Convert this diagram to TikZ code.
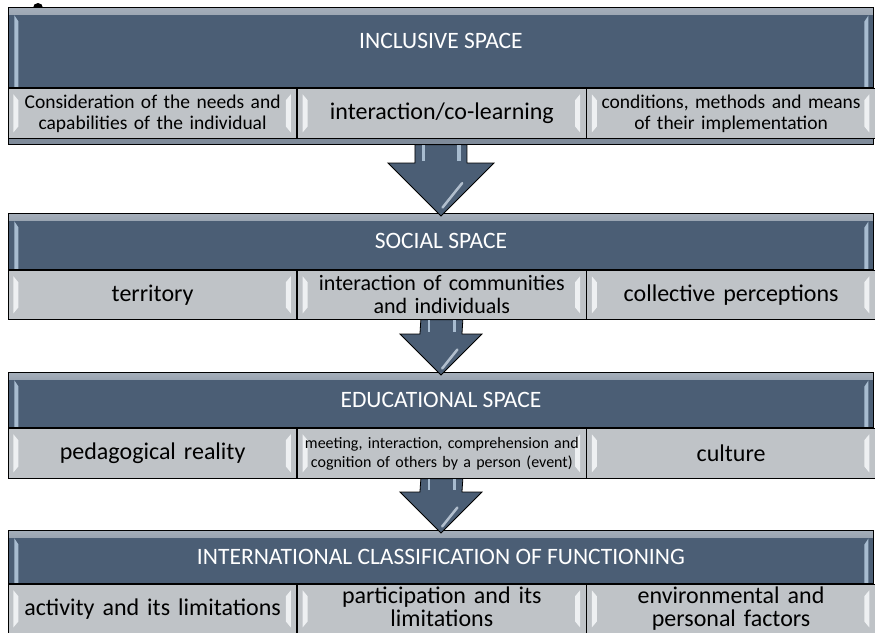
\documentclass[tikz,border=0pt]{standalone}
\usepackage{fontspec}
\setmainfont{Carlito}
\usetikzlibrary{calc}
\definecolor{slate}{RGB}{75,94,117}
\definecolor{cellgray}{RGB}{191,195,199}
\definecolor{shine}{RGB}{238,240,242}
\definecolor{shineblue}{RGB}{168,188,208}

\begin{document}
\begin{tikzpicture}[x=1pt, y=-1pt,
    base/.style={rectangle, draw=black, line width=0.9pt, fill=slate,
                 anchor=north west, minimum width=865pt, inner sep=0pt},
    head/.style={base, path picture={
        \shade[top color=slate!50!white, bottom color=slate]
            (path picture bounding box.north west) rectangle ($(path picture bounding box.north east)+(0,7)$);
        \fill[shineblue] ($(path picture bounding box.north west)+(6,8)$) -- ($(path picture bounding box.north west)+(10,14)$)
            -- ($(path picture bounding box.south west)+(10,0)$) -- ($(path picture bounding box.south west)+(6,0)$) -- cycle;
        \fill[shineblue] ($(path picture bounding box.north east)+(-5,8)$) -- ($(path picture bounding box.north east)+(-9,14)$)
            -- ($(path picture bounding box.south east)+(-9,0)$) -- ($(path picture bounding box.south east)+(-5,0)$) -- cycle;
    }},
    headtxt/.style={text=white, inner sep=0pt, font=\fontsize{23.5}{26}\selectfont},
    cell/.style={rectangle, draw=black, line width=0.9pt, fill=cellgray, anchor=north west,
                 minimum width=288.33pt, minimum height=50pt, inner sep=0pt,
                 text width=280pt, align=center, font=\fontsize{24}{23}\selectfont,
                 path picture={
        \fill[shine] ($(path picture bounding box.north west)+(5,6)$) -- ($(path picture bounding box.north west)+(10,12)$)
            -- ($(path picture bounding box.south west)+(10,-12)$) -- ($(path picture bounding box.south west)+(5,-6)$) -- cycle;
        \fill[shine] ($(path picture bounding box.north east)+(-6,6)$) -- ($(path picture bounding box.north east)+(-11,12)$)
            -- ($(path picture bounding box.south east)+(-11,-12)$) -- ($(path picture bounding box.south east)+(-6,-6)$) -- cycle;
    }},
    mid/.style={font=\fontsize{22}{23}\selectfont},
    small/.style={font=\fontsize{19.5}{21}\selectfont},
    tiny/.style={font=\fontsize{16}{19}\selectfont},
    flow/.style={fill=slate, draw=black, line width=0.8pt, line join=miter}
]
    \useasboundingbox (0,0) rectangle (875,632);
    \fill[white] (0,0) rectangle (875,632);
    \fill[black] (38,8) circle (5pt);

    % Headers
    \node[head, minimum height=80pt] (h1) at (8,7) {};
    \node[base, minimum height=56pt, fill=slate!55!cellgray] (base1) at (h1.south west) {};
    \node[head, minimum height=56pt] (h2) at (8,213) {};
    \node[head, minimum height=55pt] (h3) at (8,372) {};
    \node[head, minimum height=53pt] (h4) at (8,530) {};

    \node[headtxt] at ([yshift=6pt]h1.center) {INCLUSIVE SPACE};
    \node[headtxt] at (h2.center) {SOCIAL SPACE};
    \node[headtxt] at (h3.center) {EDUCATIONAL SPACE};
    \node[headtxt] at (h4.center) {INTERNATIONAL CLASSIFICATION OF FUNCTIONING};

    % Cells
    \node[cell, small] (c11) at (h1.south west) {Consideration of the needs and\\capabilities of the individual};
    \node[cell] (c12) at (c11.north east) {interaction/co-learning};
    \node[cell, small] (c13) at (c12.north east) {conditions, methods and means\\of their implementation};

    \node[cell, minimum height=49pt] (c21) at (h2.south west) {territory};
    \node[cell, mid, minimum height=49pt] (c22) at (c21.north east) {interaction of communities\\and individuals};
    \node[cell, minimum height=49pt] (c23) at (c22.north east) {collective perceptions};

    \node[cell] (c31) at (h3.south west) {pedagogical reality};
    \node[cell, tiny] (c32) at (c31.north east) {meeting, interaction, comprehension and\\cognition of others by a person (event)};
    \node[cell] (c33) at (c32.north east) {culture};

    \node[cell, minimum height=49pt] (c41) at (h4.south west) {activity and its limitations};
    \node[cell, minimum height=49pt, text depth=27pt] (c42) at (c41.north east) {participation and its\\limitations};
    \node[cell, minimum height=49pt, text depth=27pt] (c43) at (c42.north east) {environmental and\\personal factors};

    % Arrows
    \foreach \a/\b/\s/\w/\l in {base1/h2/26/53/53, c22/h3/21/41/41, c32/h4/21/41/41} {
        \coordinate (tip) at ($(\b.north)+(0,3)$);
        \draw[flow] ($(\a.south)+(-\s,0)$) -- ($(tip)+(-\s,-\l)$) -- ($(tip)+(-\w,-\l)$)
            -- (tip) -- ($(tip)+(\w,-\l)$) -- ($(tip)+(\s,-\l)$) -- ($(\a.south)+(\s,0)$) -- cycle;
        \fill[shineblue] ($(\a.south)+(-\s+7,0.5)$) rectangle ($(tip)+(-\s+10,-\l-2)$);
        \fill[shineblue] ($(\a.south)+(\s-10,0.5)$) rectangle ($(tip)+(\s-6,-\l-2)$);
        \draw[shineblue!60!white, line width=2.5pt, line cap=round, opacity=0.8]
            ($(tip)+(0.4*\w,-0.62*\l)$) -- ($(tip)+(0.03*\w,-0.16*\l)$);
    }
\end{tikzpicture}
\end{document}
